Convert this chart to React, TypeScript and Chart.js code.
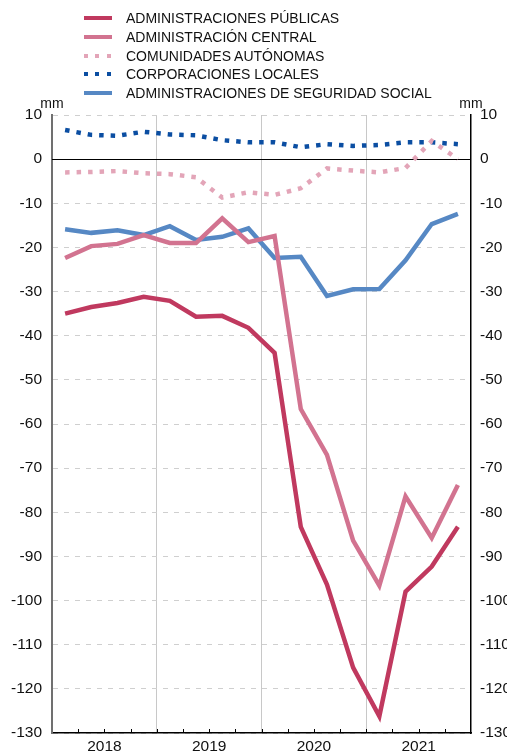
import React, { useEffect, useRef } from "react";
import { Chart, registerables } from "chart.js";

Chart.register(...registerables);

const quarters = [
  "2018T1", "2018T2", "2018T3", "2018T4",
  "2019T1", "2019T2", "2019T3", "2019T4",
  "2020T1", "2020T2", "2020T3", "2020T4",
  "2021T1", "2021T2", "2021T3", "2021T4",
];
const years = ["2018", "2019", "2020", "2021"];

const administracionesPublicas = [-35, -33.5, -32.6, -31.2, -32.1, -35.7, -35.5, -38.2, -43.9, -83.3, -96.4, -115.2, -126.2, -98, -92.3, -83.3];
const administracionCentral = [-22.4, -19.7, -19.2, -17.2, -19.0, -19.0, -13.4, -18.8, -17.4, -56.6, -67, -86.4, -96.6, -76.4, -85.8, -73.8];
const comunidadesAutonomas = [-3.0, -2.9, -2.7, -3.2, -3.4, -4.1, -8.7, -7.5, -8.1, -6.6, -2.1, -2.6, -3.0, -2.0, 4.1, 0.0];
const corporacionesLocales = [6.6, 5.5, 5.3, 6.2, 5.6, 5.4, 4.3, 3.8, 3.8, 2.7, 3.4, 3.0, 3.2, 3.8, 3.8, 3.4];
const seguridadSocial = [-15.9, -16.7, -16.1, -17.2, -15.2, -18.3, -17.6, -15.7, -22.4, -22.1, -31.0, -29.5, -29.4, -22.9, -14.7, -12.4];

const FONT = "'Liberation Sans', Arial, Helvetica, sans-serif";

const series = [
  { label: "ADMINISTRACIONES PÚBLICAS", data: administracionesPublicas, color: "#C0395F", dotted: false },
  { label: "ADMINISTRACIÓN CENTRAL", data: administracionCentral, color: "#D27390", dotted: false },
  { label: "COMUNIDADES AUTÓNOMAS", data: comunidadesAutonomas, color: "#E3A5B8", dotted: true },
  { label: "CORPORACIONES LOCALES", data: corporacionesLocales, color: "#0B4EA2", dotted: true },
  { label: "ADMINISTRACIONES DE SEGURIDAD SOCIAL", data: seguridadSocial, color: "#5688C4", dotted: false },
];

const extrasPlugin = {
  id: "extras",
  beforeDatasetsDraw(chart: any) {
    const { ctx, chartArea, scales } = chart;
    const y0 = Math.round(scales.y.getPixelForValue(0)) + 0.5;
    ctx.save();
    ctx.strokeStyle = "#000";
    ctx.lineWidth = 1;
    ctx.beginPath();
    ctx.moveTo(chartArea.left, y0);
    ctx.lineTo(chartArea.right, y0);
    ctx.stroke();
    ctx.restore();
  },
  afterDraw(chart: any) {
    const { ctx, chartArea, scales } = chart;
    const x = scales.x;
    ctx.save();
    ctx.strokeStyle = "#000";
    ctx.lineWidth = 1;
    for (let i = 1; i < quarters.length; i++) {
      const px = Math.round((x.getPixelForValue(i - 1) + x.getPixelForValue(i)) / 2) + 0.5;
      ctx.beginPath();
      ctx.moveTo(px, chartArea.bottom);
      ctx.lineTo(px, chartArea.bottom - 4);
      ctx.stroke();
    }
    ctx.fillStyle = "#111";
    ctx.font = `15.5px ${FONT}`;
    ctx.textAlign = "center";
    ctx.textBaseline = "alphabetic";
    years.forEach((yr, k) => {
      const px = (x.getPixelForValue(4 * k + 1) + x.getPixelForValue(4 * k + 2)) / 2;
      ctx.fillText(yr, px, chartArea.bottom + 18);
    });
    ctx.font = `14px ${FONT}`;
    ctx.fillText("mm", chartArea.left, chartArea.top - 7);
    ctx.fillText("mm", chartArea.right, chartArea.top - 7);
    ctx.restore();
  },
};

export default function App() {
  const canvasRef = useRef<HTMLCanvasElement | null>(null);

  useEffect(() => {
    if (!canvasRef.current) return;
    const chart = new Chart(canvasRef.current, {
      type: "line",
      data: {
        labels: quarters,
        datasets: series.map((s) => ({
          label: s.label,
          data: s.data,
          borderColor: s.color,
          backgroundColor: s.color,
          borderWidth: 4.5,
          borderDash: s.dotted ? [4.5, 7] : [],
          borderCapStyle: "butt",
          pointRadius: 0,
          tension: 0,
          fill: false,
          yAxisID: "y",
        })),
      },
      options: {
        responsive: false,
        animation: false,
        devicePixelRatio: 1,
        layout: { padding: { top: 115, left: 0, right: 0, bottom: 0 } },
        plugins: {
          legend: { display: false },
          tooltip: { enabled: false },
        },
        scales: {
          x: {
            type: "category",
            offset: true,
            afterFit: (s: any) => { s.height = 20; },
            grid: {
              offset: true,
              drawTicks: false,
              color: (c: any) => (c.index === 4 || c.index === 8 || c.index === 12 ? "#c8c8c8" : "rgba(0,0,0,0)"),
              lineWidth: 1,
            },
            border: { display: true, color: "#000", width: 1.5 },
            ticks: { display: false },
          },
          y: {
            position: "left",
            min: -130,
            max: 10,
            afterFit: (s: any) => { s.width = 52; },
            grid: { color: "#cfcfcf", lineWidth: 1, drawTicks: false },
            border: { display: true, color: "#707070", width: 2, dash: [5, 6] },
            ticks: {
              stepSize: 10,
              padding: 10,
              color: "#111",
              font: { family: FONT, size: 15.5 },
              callback: (v: any) => String(v),
            },
          },
          y2: {
            position: "right",
            min: -130,
            max: 10,
            afterFit: (s: any) => { s.width = 36; },
            grid: { drawOnChartArea: false, drawTicks: false },
            border: { display: true, color: "#000", width: 1.5 },
            ticks: {
              stepSize: 10,
              padding: 9,
              color: "#111",
              font: { family: FONT, size: 15.5 },
              callback: (v: any) => String(v),
            },
          },
        },
      },
      plugins: [extrasPlugin],
    } as any);
    return () => chart.destroy();
  }, []);

  const rowTop = [18, 37, 55.5, 74, 93];

  return (
    <div style={{ position: "fixed", left: 0, top: 0, width: 507, height: 753, background: "#fff", overflow: "hidden" }}>
      <canvas ref={canvasRef} width={507} height={753} style={{ display: "block", position: "absolute", left: 0, top: 0 }} />
      {series.map((s, i) => (
        <div
          key={s.label}
          style={{
            position: "absolute",
            left: 84,
            top: rowTop[i] - 9,
            height: 18,
            display: "flex",
            alignItems: "center",
            fontFamily: FONT,
            fontSize: 14,
            color: "#111",
            whiteSpace: "nowrap",
          }}
        >
          <div
            style={{
              width: 28,
              height: 4,
              background: s.dotted
                ? `repeating-linear-gradient(to right, ${s.color} 0px, ${s.color} 4px, transparent 4px, transparent 11.5px)`
                : s.color,
              marginRight: 14,
            }}
          />
          <span>{s.label}</span>
        </div>
      ))}
    </div>
  );
}
